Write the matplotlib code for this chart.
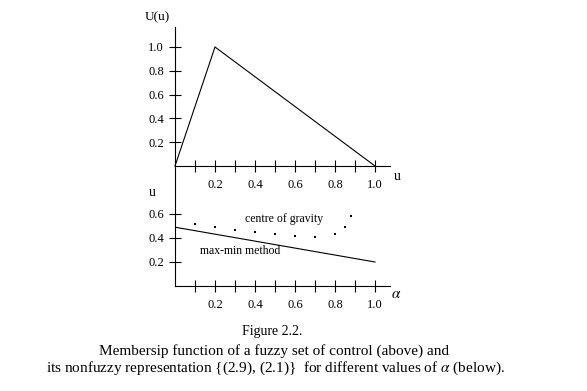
import matplotlib
matplotlib.use('Agg')
import matplotlib.pyplot as plt

plt.rcParams['font.family'] = ['Liberation Serif', 'DejaVu Serif']
plt.rcParams['mathtext.fontset'] = 'stix'

# membership function (above)
u = [0.0, 0.2, 1.0]
mu = [0.0, 1.0, 0.0]

# nonfuzzy representation vs alpha (below)
alpha_maxmin = [0.0, 1.0]
maxmin = [0.49, 0.2]
alpha_cog = [0.1, 0.2, 0.3, 0.4, 0.5, 0.6, 0.7, 0.8, 0.85, 0.88]
cog = [0.52, 0.495, 0.467, 0.453, 0.436, 0.42, 0.408, 0.436, 0.495, 0.586]

xticks = [0.1, 0.2, 0.3, 0.4, 0.5, 0.6, 0.7, 0.8, 0.9, 1.0]
xlabels = ['', '0.2', '', '0.4', '', '0.6', '', '0.8', '', '1.0']

W, H = 587, 391
fig = plt.figure(figsize=(W / 100, H / 100), dpi=100)


def px(x, y):
    return x / W, 1 - y / H


left, right = 175, 390
ax1 = fig.add_axes([left / W, (H - 166) / H, (right - left) / W, 139 / H])
ax2 = fig.add_axes([left / W, (H - 286) / H, (right - left) / W, 120 / H])

for ax in (ax1, ax2):
    for s in ('top', 'right'):
        ax.spines[s].set_visible(False)
    for s in ('left', 'bottom'):
        ax.spines[s].set_linewidth(0.8)
    ax.set_xlim(0, 1.075)
    ax.set_xticks(xticks)
    ax.set_xticklabels(xlabels)
    ax.tick_params(direction='inout', length=8, width=0.8, labelsize=9)
    ax.tick_params(axis='x', pad=5)
    ax.tick_params(axis='y', pad=4)
    ax.patch.set_visible(False)

ax1.set_ylim(0, 1.168)
ax1.set_yticks([0.2, 0.4, 0.6, 0.8, 1.0])
ax1.set_yticklabels(['0.2', '0.4', '0.6', '0.8', '1.0'])
ax1.plot(u, mu, color='black', lw=0.8, clip_on=False)

ax2.set_ylim(0, 1.0)
ax2.set_yticks([0.2, 0.4, 0.6])
ax2.set_yticklabels(['0.2', '0.4', '0.6'])
ax2.plot(alpha_maxmin, maxmin, color='black', lw=0.8)
ax2.plot(alpha_cog, cog, 's', color='black', markersize=1.8, markeredgewidth=0)
ax2.text(0.35, 0.56, 'centre of gravity', fontsize=8.5, va='center')
ax2.text(0.125, 0.29, 'max-min method', fontsize=8.5, va='center')

fig.text(*px(157, 17), 'U(u)', fontsize=9.5, ha='center', va='center')
fig.text(*px(397, 176), 'u', fontsize=10, ha='center', va='center')
fig.text(*px(152, 192), 'u', fontsize=10, ha='center', va='center')
fig.text(*px(396, 295), r'$\alpha$', fontsize=11, ha='center', va='center')

fig.text(*px(272, 332), 'Figure 2.2.', fontsize=10, ha='center', va='center')
fig.text(*px(99, 351), 'Membersip function of a fuzzy set of control (above) and',
         fontsize=11, ha='left', va='center')
fig.text(*px(46, 368), r'its nonfuzzy representation {(2.9), (2.1)}  for different values of $\alpha$ (below).',
         fontsize=11, ha='left', va='center')

fig.savefig('out.png', dpi=100)
